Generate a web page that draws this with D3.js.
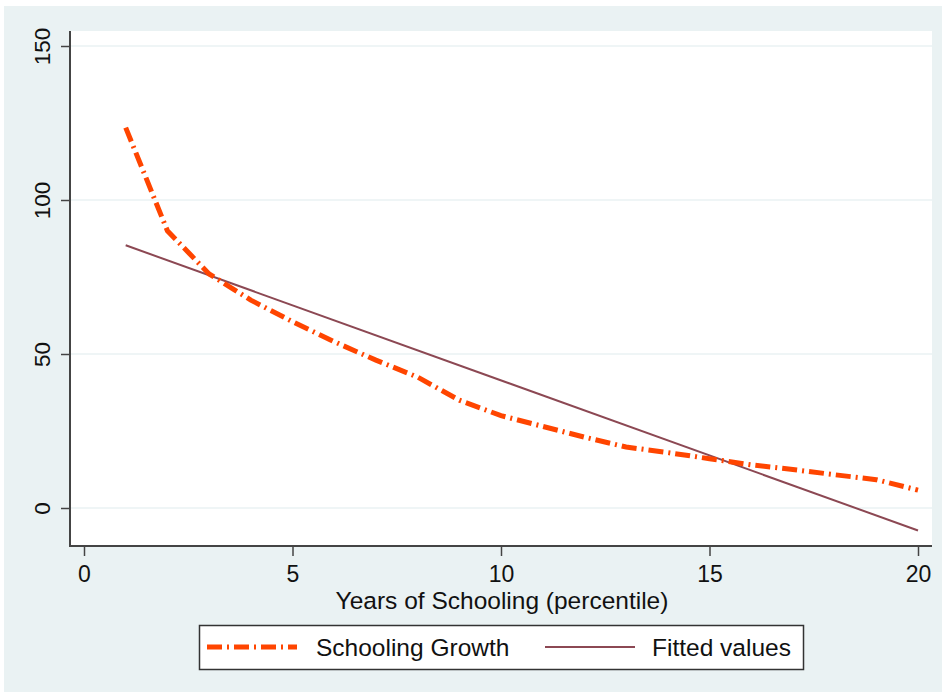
<!DOCTYPE html>
<html>
<head>
<meta charset="utf-8">
<script src="https://cdn.jsdelivr.net/npm/d3@7"></script>
<style>
  body { margin: 0; background: #fff; }
  text { font-family: "Liberation Sans", Arial, sans-serif; fill: #111; }
</style>
</head>
<body>
<div id="chart"></div>
<script>
// Data
var years = [1, 2, 3, 4, 5, 6, 7, 8, 9, 10, 11, 12, 13, 14, 15, 16, 17, 18, 19, 20];
var growth = [123.5, 90, 76, 67.5, 60.5, 54, 48, 42.5, 35, 30, 26.5, 23, 19.8, 18, 16, 14, 12.5, 10.8, 9.2, 5.8];
var fitX = [1, 20];
var fitY = [85.3, -7.3];
var xTicks = [0, 5, 10, 15, 20];
var yTicks = [0, 50, 100, 150];

var width = 942, height = 692;
var plot = { left: 70, right: 932, top: 31, bottom: 546 };

var svg = d3.select("#chart").append("svg")
  .attr("width", width)
  .attr("height", height);

// outer background
svg.append("rect")
  .attr("x", 4).attr("y", 6)
  .attr("width", width - 4).attr("height", height - 6)
  .attr("fill", "#eaf2f3");

svg.append("rect")
  .attr("x", plot.left).attr("y", plot.top)
  .attr("width", plot.right - plot.left).attr("height", plot.bottom - plot.top)
  .attr("fill", "#fff");

var x = d3.scaleLinear().domain([0, 20]).range([84, 918]);
var y = d3.scaleLinear().domain([0, 150]).range([508, 46]);

// grid lines
svg.append("g").selectAll("line")
  .data(yTicks)
  .enter().append("line")
  .attr("x1", plot.left).attr("x2", plot.right)
  .attr("y1", d => y(d)).attr("y2", d => y(d))
  .attr("stroke", "#eaf2f3")
  .attr("stroke-width", 1.5);

// y axis
var yAxis = svg.append("g")
  .attr("transform", "translate(" + plot.left + ",0)")
  .call(d3.axisLeft(y).tickValues(yTicks).tickSize(9).tickPadding(6).tickSizeOuter(0));
yAxis.select(".domain").remove();
yAxis.append("line")
  .attr("x1", 0).attr("x2", 0)
  .attr("y1", plot.top).attr("y2", plot.bottom + 1)
  .attr("stroke", "#444").attr("stroke-width", 2);
yAxis.selectAll(".tick line").attr("stroke", "#444").attr("stroke-width", 1.5);
yAxis.selectAll(".tick text")
  .attr("font-size", 22.5)
  .attr("fill", "#111")
  .attr("font-family", "Liberation Sans, Arial, sans-serif")
  .attr("text-anchor", "middle")
  .attr("transform", "translate(-28,0) rotate(-90)")
  .attr("x", 0)
  .attr("dy", "0.35em");

// x axis
var xAxis = svg.append("g")
  .attr("transform", "translate(0," + plot.bottom + ")")
  .call(d3.axisBottom(x).tickValues(xTicks).tickSize(10).tickPadding(10).tickSizeOuter(0));
xAxis.select(".domain").remove();
xAxis.append("line")
  .attr("x1", plot.left - 1).attr("x2", plot.right)
  .attr("y1", 0).attr("y2", 0)
  .attr("stroke", "#444").attr("stroke-width", 2);
xAxis.selectAll(".tick line").attr("stroke", "#444").attr("stroke-width", 1.5);
xAxis.selectAll(".tick text")
  .attr("font-size", 23)
  .attr("fill", "#111")
  .attr("font-family", "Liberation Sans, Arial, sans-serif");

svg.append("text")
  .attr("x", 502).attr("y", 609)
  .attr("text-anchor", "middle")
  .attr("font-size", 24.5)
  .text("Years of Schooling (percentile)");

// series
var line = d3.line().x(d => x(d[0])).y(d => y(d[1]));

svg.append("path")
  .datum(d3.zip(fitX, fitY))
  .attr("d", line)
  .attr("fill", "none")
  .attr("stroke", "#8c4853")
  .attr("stroke-width", 2);

svg.append("path")
  .datum(d3.zip(years, growth))
  .attr("d", line)
  .attr("fill", "none")
  .attr("stroke", "#ff4500")
  .attr("stroke-width", 5)
  .attr("stroke-dasharray", "15,5,2,5");

// legend
var legend = svg.append("g");
legend.append("rect")
  .attr("x", 199.5).attr("y", 625.5)
  .attr("width", 604).attr("height", 44)
  .attr("fill", "#fff")
  .attr("stroke", "#333")
  .attr("stroke-width", 1.5);
legend.append("line")
  .attr("x1", 207).attr("x2", 297)
  .attr("y1", 647).attr("y2", 647)
  .attr("stroke", "#ff4500")
  .attr("stroke-width", 5)
  .attr("stroke-dasharray", "15,5,2,5");
legend.append("text")
  .attr("x", 316).attr("y", 656)
  .attr("font-size", 24.5)
  .text("Schooling Growth");
legend.append("line")
  .attr("x1", 545).attr("x2", 635)
  .attr("y1", 647).attr("y2", 647)
  .attr("stroke", "#8c4853")
  .attr("stroke-width", 2);
legend.append("text")
  .attr("x", 652).attr("y", 656)
  .attr("font-size", 24.5)
  .text("Fitted values");
</script>
</body>
</html>
